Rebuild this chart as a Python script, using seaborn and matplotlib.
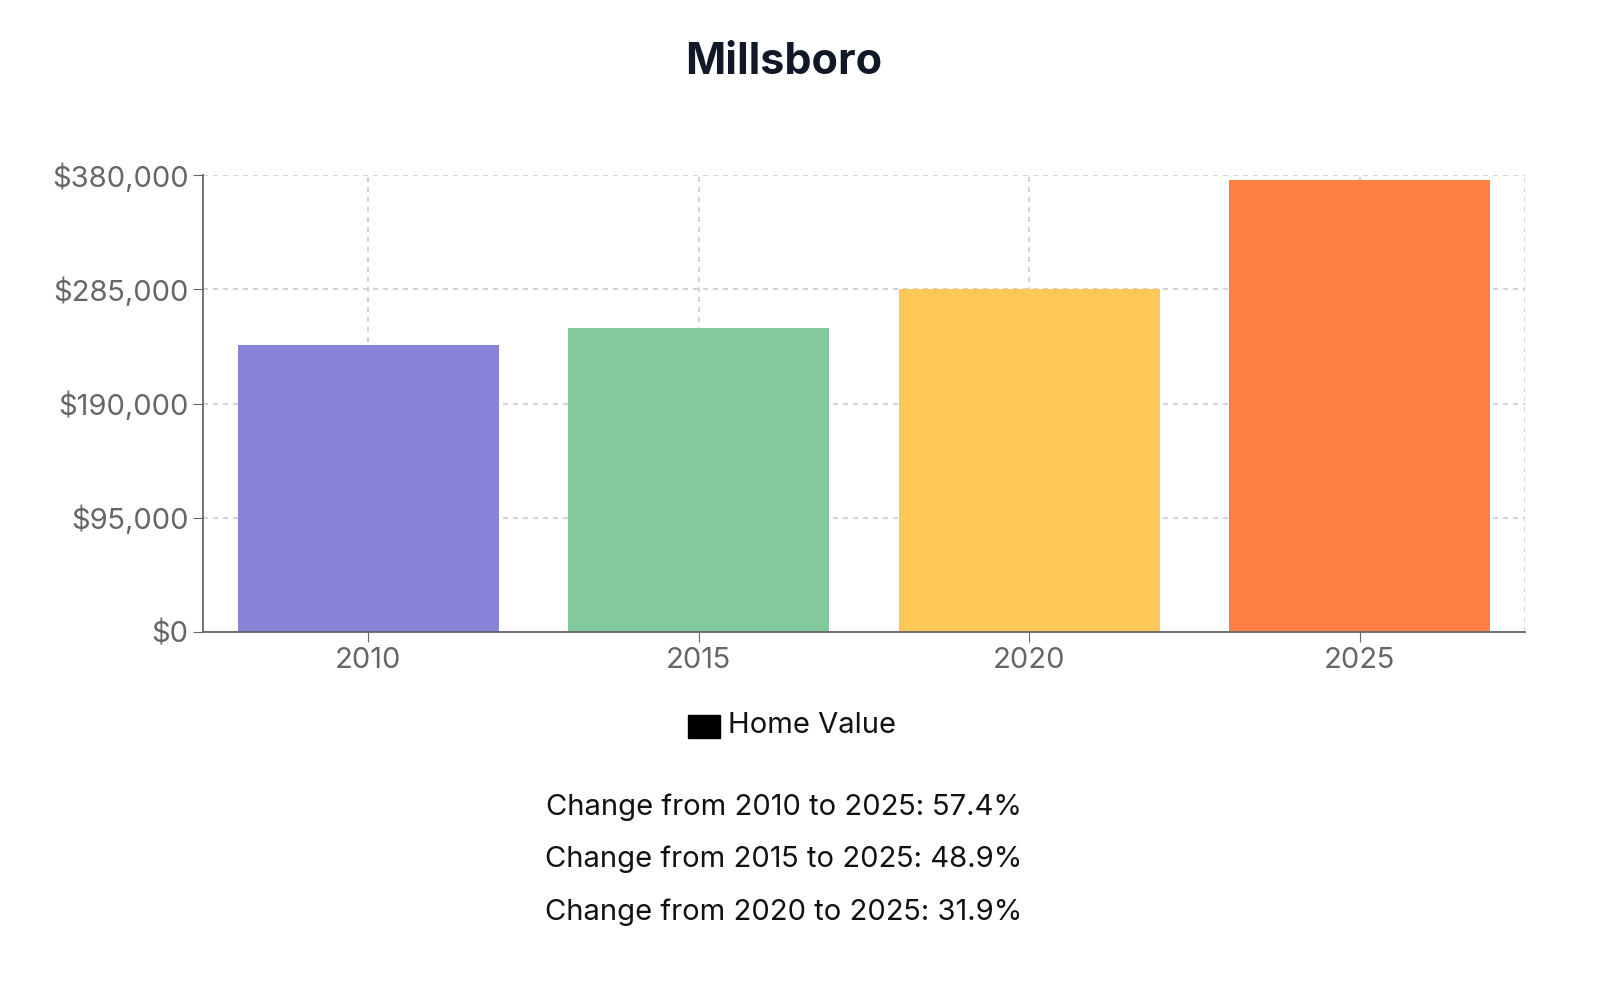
import matplotlib
matplotlib.use("Agg")
import matplotlib.pyplot as plt
import seaborn as sns
import pandas as pd
from matplotlib.ticker import FuncFormatter, FixedLocator

years = ["2010", "2015", "2020", "2025"]
values = [238700, 252400, 285000, 375800]
colors = ["#8884d8", "#82ca9d", "#ffc658", "#ff8042"]
yticks = [0, 95000, 190000, 285000, 380000]
changes = ["Change from 2010 to 2025: 57.4%", "Change from 2015 to 2025: 48.9%", "Change from 2020 to 2025: 31.9%"]

plt.rcParams["font.family"] = "Inter"
df = pd.DataFrame({"year": years, "value": values})
fig = plt.figure(figsize=(16, 9.89), dpi=100)
ax = fig.add_axes([0.127, 0.361, 0.826, 0.462])
sns.barplot(data=df, x="year", y="value", hue="year", palette=colors, width=0.79,
            saturation=1, legend=False, ax=ax, zorder=2)
ax.set_ylim(0, 380000)
ax.set_xlim(-0.5, 3.5)
ax.yaxis.set_major_locator(FixedLocator(yticks))
ax.yaxis.set_major_formatter(FuncFormatter(lambda v, p: f"${int(v):,}"))
ax.grid(True, color="#cccccc", linestyle=(0, (3, 3)), linewidth=1.2, zorder=0)
ax.axvline(3.5, color="#cccccc", linestyle=(0, (3, 3)), linewidth=1.2)
for s in ["top", "right"]:
    ax.spines[s].set_visible(False)
for s in ["left", "bottom"]:
    ax.spines[s].set_color("#666666")
    ax.spines[s].set_linewidth(1.3)
ax.tick_params(colors="#666666", labelsize=21, length=7)
ax.set_xlabel(""); ax.set_ylabel("")
fig.text(0.49, 0.937, "Millsboro", ha="center", va="center", fontsize=31, fontweight="bold", color="#111827")
fig.patches.append(plt.Rectangle((0.43, 0.254), 0.02, 0.023, transform=fig.transFigure, color="black"))
fig.text(0.455, 0.266, "Home Value", ha="left", va="center", fontsize=21, color="#111")
for i, t in enumerate(changes):
    fig.text(0.49, 0.184 - i * 0.053, t, ha="center", va="center", fontsize=21, color="#111")
fig.savefig("out.png", dpi=100)
